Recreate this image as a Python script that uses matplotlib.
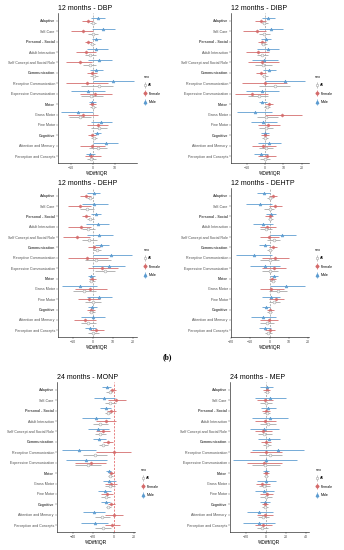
import numpy as np
import matplotlib
matplotlib.use("Agg")
import matplotlib.pyplot as plt
from matplotlib.lines import Line2D
from matplotlib.legend_handler import HandlerTuple

plt.rcParams["font.family"] = ["Liberation Sans", "DejaVu Sans"]

# categorie (dall'alto in basso), quelle in grassetto sono i domini
categorie = ["Adaptive", "Self-Care", "Personal - Social", "Adult Interaction",
             "Self Concept and Social Role", "Communication", "Receptive Communication",
             "Expressive Communication", "Motor", "Gross Motor", "Fine Motor",
             "Cognitive", "Attention and Memory", "Perception and Concepts"]
domini = ["Adaptive", "Personal - Social", "Communication", "Motor", "Cognitive"]

# (stima, ci basso, ci alto) per ogni categoria
dbp_male = [(2.3, -0.8, 5.4), (4.3, -0.3, 10), (1.5, -0.3, 3.8), (1.5, -2.8, 6.9), (2.6, -2.3, 8.5),
            (1.2, -1.5, 4.6), (9.2, 0, 18.5), (-2.3, -10, 5.4), (-0.3, -1.8, 1.5), (-6.9, -14.6, 0),
            (3.8, -0.8, 8.5), (1.8, 0.3, 3.4), (5.8, 0, 11.5), (-1.2, -3.1, 0.8)]
dbp_female = [(-2.3, -5, 0), (-4.6, -10, 0), (-2.3, -3.8, -0.3), (-3.4, -8, 1.5), (-6.2, -12.3, -0.3),
              (-0.3, -2.8, 1.8), (-2.8, -12.3, 6.9), (0.8, -6.2, 8.5), (-0.3, -1.8, 1.5), (-4.6, -11.5, 2.3),
              (2.3, -2.8, 6.9), (-0.3, -2.3, 1.5), (-0.3, -6.2, 5.4), (-0.8, -3.8, 3.8)]
dbp_all = [(0, -1.2, 1.5), (0, -2.3, 2.3), (-0.3, -1.5, 0.8), (-1.5, -3.8, 1.5), (-1.5, -4.6, 1.5),
           (0.5, -1.2, 2.3), (2.8, -5.4, 9.2), (-0.8, -5.4, 4.6), (0, -1.2, 1.2), (-6.2, -10.8, -0.8),
           (2.8, -0.8, 6.2), (0.5, -0.8, 1.8), (2.3, -1.8, 6.5), (-0.8, -2.8, 1.5)]

dibp_male = [(1.8, -1.8, 5.5), (3.1, -3.3, 10), (0.4, -2.2, 3.3), (1.8, -4.5, 7.6), (-0.4, -7.3, 6.9),
             (2.2, -0.9, 5.8), (10.9, 0, 21.8), (-1.8, -10.5, 7.6), (-1.5, -3.3, 0.9), (-5.5, -15.5, 3.6),
             (-0.9, -7.6, 6.4), (0, -2.2, 2.2), (2.2, -4, 8.7), (-2.2, -5.8, 1.5)]
dibp_female = [(-2.2, -5.5, 0.4), (-4.5, -11.8, 0.4), (-1.8, -4, 0.4), (-3.6, -10.5, 2.2), (-1.8, -9.5, 7.6),
               (-2.2, -5.1, 0.4), (0, -12.4, 11.8), (-7.3, -16.4, 1.8), (2.2, 0, 4.5), (9.1, 0, 20),
               (1.8, -4, 8), (0, -2.2, 2.2), (-0.9, -7.3, 5.8), (0.9, -3.6, 5.8)]
dibp_all = [(-0.4, -1.8, 1.5), (-0.4, -3.3, 2.7), (-0.9, -2.2, 0.9), (-1.8, -4.5, 1.8), (-0.9, -5.5, 4),
            (-0.4, -1.8, 1.8), (5.5, -3.3, 13.6), (-3.3, -9.1, 1.8), (0.9, -0.4, 2.7), (0.5, -4.5, 6.9),
            (0.4, -3.3, 4.5), (0, -1.5, 1.5), (0.4, -3.3, 4.5), (0, -2.7, 2.7)]

dehp_male = [(0.3, -3, 3.3), (0.3, -5.7, 7.4), (1.6, -0.8, 4.1), (2.5, -3.3, 8.2), (3, -3, 9.8),
             (4.1, 0.8, 7.9), (9, 0, 19.7), (7.9, -0.3, 16), (-0.8, -2.5, 0.8), (-6.6, -15.6, 2),
             (3, -3, 9.5), (-0.3, -2.5, 2), (0, -6.2, 6.2), (-1.3, -4.1, 1.6)]
dehp_female = [(-3.6, -6.6, -0.8), (-6.6, -12.3, -0.8), (-3.6, -5.7, -1.3), (-6.2, -12.3, -0.8), (-8.2, -14.8, -1.3),
               (0.3, -2.5, 3.3), (-3, -12.3, 7.4), (4.6, -2.5, 12.3), (-0.3, -2, 1.6), (-1.6, -9, 6.9),
               (-2, -7.4, 3.3), (-0.8, -3, 0.8), (-4.1, -9.5, 1.6), (1.6, -1.3, 5.7)]
dehp_all = [(-1.6, -3, 0), (-3, -6.6, 0.3), (-1.3, -3, 0.3), (-2.5, -5.7, 0.8), (-2, -5.7, 2),
            (2, 0, 4.1), (1.3, -4.1, 9), (6.2, 0.8, 11.1), (-0.8, -2, 0.8), (-4.6, -9.8, 1.6),
            (0, -4.1, 4.1), (-0.8, -2, 0.8), (-2.5, -6.2, 1.6), (0, -2.5, 3)]

dehtp_male = [(-2.9, -6.4, 0), (-5.2, -12, 1.4), (1, -1.7, 3.4), (-3.4, -8.6, 1.7), (6.6, 0.5, 13.8),
              (-2.4, -5.5, 0.5), (-8.1, -17.6, 1.4), (-2.4, -10.3, 5.7), (2.2, 0.5, 4.3), (8.6, 0, 18.6),
              (1, -3.8, 5.7), (-1.7, -4.1, 0.5), (-3.4, -9.8, 3.4), (-2.4, -5.5, 1)]
dehtp_female = [(1.7, -0.3, 4), (2.8, -0.3, 6.6), (0, -2.1, 1.7), (-1.2, -5.2, 3.4), (-0.3, -5.2, 4.8),
                (1.7, -0.3, 4), (3.1, -4.1, 10.3), (2.2, -3.8, 8.6), (1.4, -0.3, 3.4), (1, -5.2, 7.4),
                (3.4, -0.3, 7.4), (0.5, -1.2, 2.2), (-0.3, -5.2, 4.5), (0, -2.4, 2.8)]
dehtp_all = [(0, -1.2, 1.4), (0, -2.9, 2.2), (0.5, -0.7, 1.7), (-1.7, -4.7, 1.4), (2.2, -1.2, 5.7),
             (0, -1.2, 1.4), (0, -5.2, 4.8), (0, -4.1, 4.5), (1.7, 0.5, 3.1), (4.5, -0.3, 9.1),
             (2.2, -0.3, 5.2), (0, -1.2, 1.4), (-1.2, -4.7, 2.2), (-0.7, -2.4, 1.4)]

monp_male = [(-6.5, -11, -2.3), (-9.7, -19.4, 1), (-7.7, -12.9, -2.3), (-17.4, -31, -3.9), (-15.2, -24.8, -4.5),
             (-14.2, -20.6, -7.7), (-33.5, -50.6, -16.8), (-27, -47, -6.5), (-4.5, -7.1, -2.3), (-4.5, -10.3, 1.9),
             (-8.7, -15.2, -2.3), (-7.7, -11.9, -3.9), (-19.4, -29.7, -8.7), (-18.4, -32.3, -5.5)]
monp_female = [(-1.3, -3.9, 1.9), (2.6, -5.5, 12.3), (-2.3, -6.5, 1.9), (-7.1, -16.8, 2.6), (-10.3, -16.8, -3.9),
               (-5.5, -10.3, -0.6), (0, -16.8, 17), (-22.6, -37.7, -7.7), (-2.3, -4.5, 0), (-2.3, -8.7, 3.2),
               (-6.5, -11.9, -0.6), (-2.3, -5.5, 1), (0, -8.7, 9), (-1.3, -8.7, 6.5)]
monp_all = [(-3.9, -7.1, -1.3), (-3.9, -8.7, 1.9), (-5.5, -8.7, -2.3), (-12.9, -20, -5.5), (-12.9, -18.4, -7.1),
            (-10.3, -14.2, -5.5), (-18.4, -29.7, -6.5), (-24.8, -37.7, -12), (-3.2, -5.5, -0.6), (-3.9, -8.7, 1),
            (-7.7, -11.9, -3.2), (-5.5, -7.7, -2.3), (-11, -18.4, -3.9), (-10.3, -18.4, -2.3)]

mep_male = [(0.7, -6, 7.3), (4, -11, 19.7), (2.3, -5, 9.7), (4, -14.3, 22.3), (-1.7, -16, 13),
            (3, -7.7, 14), (11.7, -14.3, 38.3), (-0.3, -32.7, 30.7), (0, -2.7, 3), (-0.3, -9.3, 9.7),
            (-1.7, -11, 8.3), (-1, -6, 4), (-7, -19.3, 7.3), (-7, -22.7, 9)]
mep_female = [(0.7, -2.7, 4), (-1, -9.3, 7.3), (-0.3, -3.7, 4), (-1, -11, 9.7), (-2.7, -11, 6.3),
              (-0.3, -5, 5), (-0.3, -16, 15.7), (-1.7, -19.3, 15.7), (0, -2.7, 3), (-3.7, -10.3, 4),
              (0.7, -6, 7.3), (-1, -4.3, 2.3), (-1, -9.3, 7.3), (-2.7, -11, 5.7)]
mep_all = [(0.7, -1.7, 3), (0, -6, 6.3), (0.7, -2.7, 4), (1.7, -6, 9.7), (-1.7, -8.3, 5.7),
           (0.7, -2.7, 5), (4, -7, 15.7), (-1, -14.3, 14), (0, -1.7, 2.3), (-1.7, -7, 4),
           (-0.3, -6, 5.7), (-1, -3.7, 2.3), (-2.7, -8.3, 3), (-4.3, -9.3, 1.7)]

col_all = "#a6a6a6"
col_female = "#d46a6a"
col_male = "#5b9bd0"

fig = plt.figure(figsize=(3.44, 5.5), dpi=100)


def pannello(pos, titolo, dati, xlim, xticks, leg_y, zero_col="#9a9a9a"):
    ax = fig.add_axes(pos)
    y = np.arange(len(categorie))
    serie = [(dati[2], col_male, "^", -0.25, "Male"),
             (dati[1], col_female, "D", 0.0, "Female"),
             (dati[0], col_all, "o", 0.25, "All")]
    ax.axvline(0, color=zero_col, ls=(0, (3, 2)), lw=0.5, zorder=0)
    for d, c, m, off, lab in serie:
        d = np.array(d)
        ax.errorbar(d[:, 0], y + off, xerr=[d[:, 0] - d[:, 1], d[:, 2] - d[:, 0]],
                    fmt=m, color=c, ms=2.0 if m != "D" else 1.6, mfc="white" if lab == "All" else c,
                    mew=0.45, elinewidth=0.65, capsize=0, alpha=0.9)
    ax.set_ylim(len(categorie) - 0.35, -0.75)
    ax.set_xlim(*xlim)
    ax.set_xticks(xticks)
    ax.set_yticks(y)
    ax.set_yticklabels(categorie)
    for t in ax.get_yticklabels():
        if t.get_text() in domini:
            t.set_fontweight("bold")
            t.set_color("black")
        else:
            t.set_color("#555555")
    ax.tick_params(labelsize=2.6, length=1.2, width=0.3, pad=1, colors="#4d4d4d")
    for s in ["top", "right"]:
        ax.spines[s].set_visible(False)
    for s in ["left", "bottom"]:
        ax.spines[s].set_linewidth(0.4)
    ax.set_xlabel("%Diff/IQR", fontsize=3.6, labelpad=1)
    ax.set_title(titolo, loc="left", fontsize=5.0, pad=2)
    handles = [(Line2D([], [], marker="|", color=col_all, ms=4, mew=0.5, ls=""),
                Line2D([], [], marker="o", color=col_all, mfc="white", ms=1.8, mew=0.4, ls="")),
               (Line2D([], [], marker="|", color=col_female, ms=4, mew=0.5, ls=""),
                Line2D([], [], marker="D", color=col_female, ms=1.5, ls="")),
               (Line2D([], [], marker="|", color=col_male, ms=4, mew=0.5, ls=""),
                Line2D([], [], marker="^", color=col_male, ms=1.8, ls=""))]
    leg = ax.legend(handles, ["All", "Female", "Male"], title="sex", loc="center left",
                    bbox_to_anchor=(1.04, leg_y), frameon=False, fontsize=2.6,
                    title_fontsize=2.8, handler_map={tuple: HandlerTuple(ndivide=1)},
                    handlelength=1.0, handletextpad=0.4, labelspacing=1.2)
    leg._legend_box.align = "left"
    return ax


W = 344.0
H = 550.0


def box(x0, x1, y0, y1):
    return [x0 / W, (H - y1) / H, (x1 - x0) / W, (y1 - y0) / H]


pannello(box(58, 137, 13, 163), "12 months - DBP", (dbp_all, dbp_female, dbp_male),
         (-16, 20), [-10, 0, 10], 0.49)
pannello(box(231, 309, 13, 163), "12 months - DIBP", (dibp_all, dibp_female, dibp_male),
         (-18.6, 24), [-10, 0, 10, 20], 0.49)
pannello(box(58, 137, 188, 337), "12 months - DEHP", (dehp_all, dehp_female, dehp_male),
         (-17.5, 22), [-10, 0, 10, 20], 0.5)
pannello(box(231, 309, 188, 337), "12 months - DEHTP", (dehtp_all, dehtp_female, dehtp_male),
         (-20, 20.5), [-20, -10, 0, 10, 20], 0.5)
pannello(box(57, 135, 382, 532), "24 months - MONP", (monp_all, monp_female, monp_male),
         (-55.5, 21), [-40, -20, 0, 20], 0.33, zero_col="#e05050")
pannello(box(230, 309, 382, 532), "24 months - MEP", (mep_all, mep_female, mep_male),
         (-36, 43), [-20, 0, 20, 40], 0.33)

fig.text(167 / W, 1 - 357 / H, "(b)", fontsize=5.5, fontweight="bold",
         family=["Liberation Serif", "DejaVu Serif"], ha="center", va="center")

fig.savefig("out.png", dpi=100, facecolor="white")
